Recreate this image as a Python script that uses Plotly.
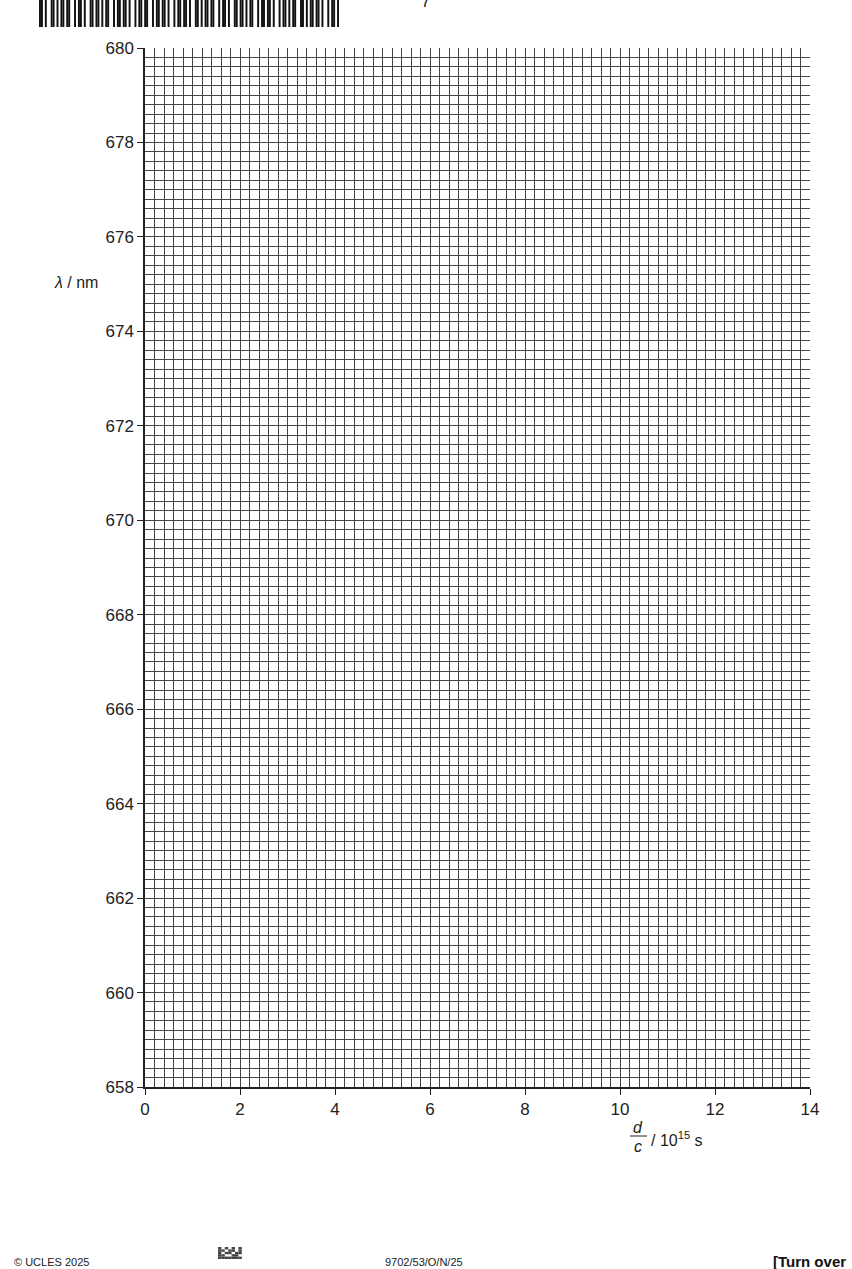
import plotly.graph_objects as go

# axis setup
x_range = [0, 14]
y_range = [658, 680]
x_ticks = [0, 2, 4, 6, 8, 10, 12, 14]
y_ticks = [658, 660, 662, 664, 666, 668, 670, 672, 674, 676, 678, 680]
small_step = 0.2

# page furniture
page_number = "7"
footer_left = "© UCLES 2025"
footer_code = "9702/53/O/N/25"
footer_right = "[Turn over"

W, H = 852, 1269
L, R, T, B = 145, 42, 48, 182
FONT = "Liberation Sans, Arial, sans-serif"


def px(xp):
    return (xp - L) / (W - L - R)


def py(yp):
    return (H - B - yp) / (H - T - B)


fig = go.Figure()
# invisible trace so the axes are drawn
fig.add_trace(go.Scatter(x=x_range, y=y_range, mode="markers",
                         marker=dict(opacity=0), hoverinfo="skip", showlegend=False))

grid_col = "#444444"
fig.update_xaxes(
    range=x_range, tickvals=x_ticks, ticks="outside", ticklen=6, tickcolor="#222",
    showgrid=True, gridcolor=grid_col, gridwidth=1,
    minor=dict(dtick=small_step, tick0=0, showgrid=True, gridcolor=grid_col, gridwidth=1),
    showline=True, linecolor="#222", linewidth=1.5, mirror=False, zeroline=False,
    tickfont=dict(family=FONT, size=17, color="#222"),
)
fig.update_yaxes(
    range=y_range, tickvals=y_ticks, ticks="outside", ticklen=6, tickcolor="#222",
    showgrid=True, gridcolor=grid_col, gridwidth=1,
    minor=dict(dtick=small_step, tick0=658, showgrid=True, gridcolor=grid_col, gridwidth=1),
    showline=True, linecolor="#222", linewidth=1.5, mirror=False, zeroline=False,
    tickfont=dict(family=FONT, size=17, color="#222"),
)

ann = []
# y axis label
ann.append(dict(x=px(52), y=py(283), xanchor="left", yanchor="middle",
                text="<i>λ</i> / nm", font=dict(family=FONT, size=16, color="#222")))
# x axis label: d over c, then / 10^15 s
ann.append(dict(x=px(638), y=py(1127), xanchor="center", yanchor="middle",
                text="<i>d</i>", font=dict(family=FONT, size=16, color="#222")))
ann.append(dict(x=px(638), y=py(1146), xanchor="center", yanchor="middle",
                text="<i>c</i>", font=dict(family=FONT, size=16, color="#222")))
ann.append(dict(x=px(649), y=py(1139), xanchor="left", yanchor="middle",
                text="/ 10<sup>15</sup> s", font=dict(family=FONT, size=16, color="#222")))
# page number and footer
ann.append(dict(x=px(425), y=py(2), xanchor="center", yanchor="middle",
                text=page_number, font=dict(family=FONT, size=17, color="#222")))
ann.append(dict(x=px(12), y=py(1262), xanchor="left", yanchor="middle",
                text=footer_left, font=dict(family=FONT, size=11, color="#222")))
ann.append(dict(x=px(383), y=py(1262), xanchor="left", yanchor="middle",
                text=footer_code, font=dict(family=FONT, size=11, color="#222")))
ann.append(dict(x=px(848), y=py(1261), xanchor="right", yanchor="middle",
                text="<b>" + footer_right + "</b>", font=dict(family=FONT, size=15, color="#111")))
for a in ann:
    a.update(xref="paper", yref="paper", showarrow=False)

shapes = []
# fraction bar
shapes.append(dict(type="line", xref="paper", yref="paper",
                   x0=px(630), x1=px(647), y0=py(1136), y1=py(1136),
                   line=dict(color="#222", width=1)))
# barcode strip at the top left
pattern = "1101001101011011001011010011011010110010110110100101101100101101101001011011010011010110110010110100110110101100101101101001011010110011010110110100101101"
bx = 39.0
bw = 300.0 / len(pattern)
for i, ch in enumerate(pattern):
    if ch == "1":
        shapes.append(dict(type="rect", xref="paper", yref="paper",
                           x0=px(bx + i * bw), x1=px(bx + (i + 1) * bw),
                           y0=py(27), y1=py(-2), line=dict(width=0), fillcolor="#111"))
# small data-matrix mark in the footer
dm = ["1010101", "1101101", "1011011", "1100110", "1111111"]
for r, row in enumerate(dm):
    for c, ch in enumerate(row):
        if ch == "1":
            shapes.append(dict(type="rect", xref="paper", yref="paper",
                               x0=px(218 + c * 3.4), x1=px(218 + (c + 1) * 3.4),
                               y0=py(1247 + (r + 1) * 2.4), y1=py(1247 + r * 2.4),
                               line=dict(width=0), fillcolor="#444"))

fig.update_layout(
    width=W, height=H,
    margin=dict(l=L, r=R, t=T, b=B),
    paper_bgcolor="white", plot_bgcolor="white",
    showlegend=False,
    annotations=ann, shapes=shapes,
    font=dict(family=FONT, color="#222"),
)

# drop the default body margin so the page lines up with the window
fig.write_html("out.html", config={"displayModeBar": False},
               post_script="document.body.style.margin='0';")
